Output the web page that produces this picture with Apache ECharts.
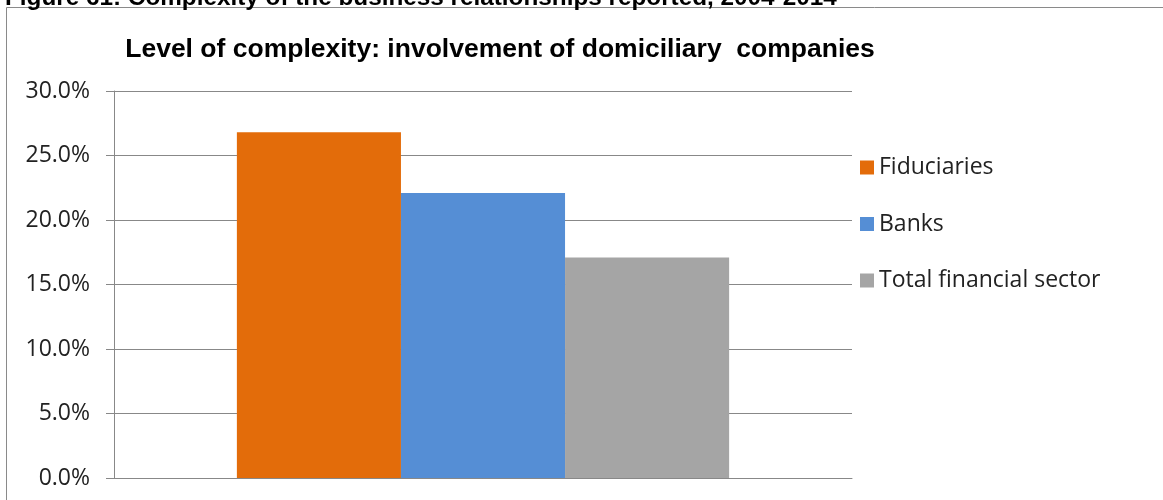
<!DOCTYPE html>
<html>
<head>
<meta charset="utf-8">
<script src="https://cdn.jsdelivr.net/npm/echarts@6/dist/echarts.min.js"></script>
<style>html,body{margin:0;padding:0;background:#fff;}#c{width:1163px;height:500px;}</style>
</head>
<body>
<div id="c"></div>
<script>
const categories = [''];
const seriesNames = ['Fiduciaries', 'Banks', 'Total financial sector'];
const fiduciaries = [26.8];
const banks = [22.1];
const totalFinancial = [17.1];
const yTicks = { min: 0, max: 30, interval: 5 };
const colors = ['#E36C0A', '#558ED5', '#A5A5A5'];
const captionText = 'Figure 61: Complexity of the business relationships reported, 2004-2014';
const titleText = 'Level of complexity: involvement of domiciliary  companies';

const chart = echarts.init(document.getElementById('c'));
const values = [fiduciaries, banks, totalFinancial];
chart.setOption({
  animation: false,
  backgroundColor: '#fff',
  title: {
    text: titleText, left: 495, top: 31, textAlign: 'center',
    textStyle: { fontFamily: 'Liberation Sans', fontWeight: 'bold', fontSize: 26.5, color: '#000' }
  },
  graphic: [
    { type: 'rect', shape: { x: 6.5, y: 7.5, width: 1300, height: 600 }, style: { fill: 'none', stroke: '#8a8a8a', lineWidth: 1 }, z: -1 },
    { type: 'text', left: 5, top: -14, style: { text: captionText, font: 'bold 24.3px "Liberation Sans"', fill: '#000' } }
  ],
  legend: {
    orient: 'vertical', left: 855, top: 151, itemWidth: 14, itemHeight: 14, itemGap: 33.5,
    icon: 'rect', data: seriesNames,
    textStyle: { fontFamily: 'Open Sans', fontSize: 23, color: '#222', padding: [0, 0, 0, 0] }
  },
  grid: { left: 114, right: 311, top: 91, bottom: 22, containLabel: false },
  xAxis: {
    type: 'category', data: categories,
    axisLine: { show: true, lineStyle: { color: '#888' } },
    axisTick: { show: false }, axisLabel: { show: false }
  },
  yAxis: {
    type: 'value', min: yTicks.min, max: yTicks.max, interval: yTicks.interval,
    axisLine: { show: true, lineStyle: { color: '#888' } },
    axisTick: { show: true, length: 8, lineStyle: { color: '#888' } },
    splitLine: { show: true, lineStyle: { color: '#888' } },
    axisLabel: {
      formatter: v => v.toFixed(1) + '%', margin: 24,
      fontFamily: 'Open Sans', fontSize: 23, color: '#222'
    }
  },
  series: seriesNames.map((n, i) => ({
    name: n, type: 'bar', data: values[i],
    barGap: '0%', barCategoryGap: '33.3%',
    itemStyle: { color: colors[i] }
  }))
});
</script>
</body>
</html>
